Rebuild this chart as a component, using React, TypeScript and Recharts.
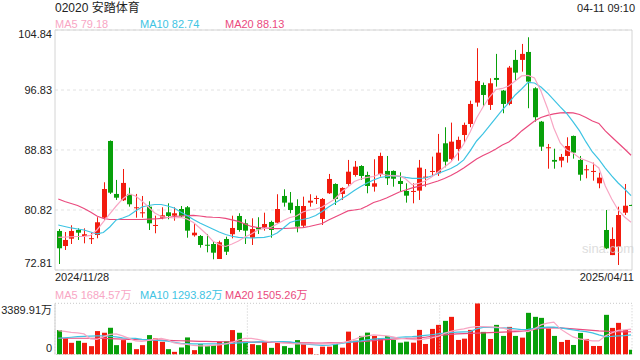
import React from 'react';
import { ComposedChart, Bar, Line, XAxis, YAxis, CartesianGrid, ReferenceArea, ReferenceLine } from 'recharts';

// ---- data ----
const opens = [78.02, 76.01, 76.99, 78.15, 77.35, 77.0, 77.48, 79.79, 90.03, 82.96, 82.12, 82.96, 81.12, 80.46, 81.26, 78.78, 79.79, 80.51, 80.06, 80.95, 81.18, 77.44, 77.35, 76.18, 76.28, 74.28, 76.95, 77.58, 80.02, 79.04, 77.12, 78.51, 78.51, 79.22, 79.12, 82.69, 81.8, 81.35, 78.72, 81.8, 82.38, 79.62, 83.05, 84.29, 82.96, 84.29, 85.49, 86.69, 85.49, 83.93, 85.63, 86.03, 86.03, 84.69, 83.36, 83.32, 83.4, 85.22, 85.98, 85.72, 89.72, 87.63, 88.96, 90.83, 92.3, 95.15, 97.5, 94.84, 98.44, 96.75, 94.97, 100.85, 100.85, 101.91, 97.06, 92.61, 89.14, 87.5, 87.41, 88.03, 90.7, 87.5, 86.2, 85.98, 84.38, 78.15, 74.8, 75.92, 80.46, 81.49];
const highs = [78.28, 77.88, 78.78, 78.37, 78.37, 77.79, 79.85, 84.52, 90.1, 84.83, 86.29, 83.8, 82.96, 82.69, 81.98, 80.06, 81.18, 81.71, 81.18, 81.35, 81.35, 79.04, 77.48, 77.62, 76.59, 76.72, 77.26, 80.06, 80.38, 79.58, 79.71, 79.85, 80.46, 79.39, 82.92, 83.58, 83.22, 82.25, 82.6, 82.92, 82.73, 82.42, 85.63, 84.38, 83.85, 87.5, 87.36, 86.8, 85.93, 87.59, 88.47, 88.03, 86.1, 85.85, 84.38, 84.38, 87.5, 86.29, 87.94, 90.97, 91.86, 92.48, 90.61, 92.48, 95.41, 102.41, 97.82, 98.4, 101.65, 96.84, 100.04, 102.18, 102.98, 103.87, 97.2, 92.7, 89.63, 89.0, 88.3, 90.52, 90.75, 88.03, 86.83, 87.14, 85.8, 80.82, 78.5, 81.26, 84.29, 81.52];
const lows = [73.61, 75.48, 76.28, 76.82, 76.37, 76.28, 77.04, 79.49, 82.96, 82.16, 82.02, 81.26, 79.79, 79.79, 78.15, 77.71, 79.58, 79.58, 79.39, 79.75, 77.12, 77.26, 75.79, 75.17, 74.24, 74.28, 74.81, 77.04, 77.92, 76.28, 76.15, 77.62, 78.06, 77.12, 79.04, 81.26, 80.38, 77.84, 78.46, 81.26, 81.62, 78.82, 82.96, 81.49, 82.16, 84.03, 85.27, 84.83, 83.05, 83.27, 85.27, 84.16, 83.93, 83.27, 81.8, 81.71, 82.16, 83.93, 85.27, 85.36, 86.52, 87.4, 87.4, 89.8, 91.86, 94.61, 94.61, 94.17, 97.28, 93.73, 94.79, 98.08, 99.28, 94.4, 92.61, 88.7, 86.33, 86.33, 86.52, 87.14, 87.67, 84.73, 85.05, 84.73, 83.72, 75.6, 74.8, 73.48, 80.15, 81.46];
const closes = [75.71, 76.82, 78.02, 77.79, 77.58, 77.06, 79.18, 83.62, 83.13, 82.46, 84.43, 81.58, 81.18, 80.51, 79.04, 78.82, 80.11, 80.02, 80.38, 79.98, 78.06, 77.79, 76.15, 76.12, 75.12, 76.51, 75.25, 78.42, 78.15, 78.06, 78.28, 78.24, 78.95, 78.15, 80.95, 81.8, 80.82, 78.6, 81.35, 82.06, 82.42, 82.29, 84.96, 82.29, 83.76, 85.93, 86.6, 85.36, 84.02, 84.38, 88.03, 85.05, 84.99, 84.29, 82.73, 83.36, 86.47, 85.27, 86.03, 88.47, 87.27, 89.94, 90.17, 92.17, 94.97, 98.04, 96.17, 97.73, 98.18, 94.97, 99.82, 99.15, 101.65, 97.95, 93.2, 89.27, 89.19, 87.27, 87.9, 89.36, 88.47, 85.53, 86.25, 86.03, 85.14, 75.7, 76.95, 80.15, 81.39, 81.49];
const ma5 = [77.17, 77.21, 77.25, 77.28, 77.31, 77.42, 78.15, 79.22, 80.29, 81.35, 82.29, 82.96, 82.69, 82.02, 81.22, 80.42, 79.95, 79.82, 79.75, 79.82, 79.62, 79.15, 78.42, 77.62, 76.68, 76.21, 75.95, 76.28, 76.68, 77.21, 77.62, 78.15, 78.35, 78.48, 78.95, 79.42, 79.82, 80.02, 80.55, 80.82, 80.95, 81.22, 81.75, 82.29, 83.22, 83.89, 84.62, 84.96, 85.16, 85.29, 85.63, 85.49, 85.36, 85.36, 84.96, 84.16, 84.36, 84.69, 85.22, 85.89, 86.56, 87.23, 88.3, 89.63, 91.23, 93.1, 94.57, 95.9, 96.9, 97.04, 97.37, 98.04, 98.71, 98.78, 98.44, 96.71, 94.44, 91.77, 89.76, 88.83, 88.43, 87.76, 87.43, 87.09, 86.43, 84.02, 82.29, 80.82, 79.89, 79.18];
const ma10 = [78.82, 78.62, 78.42, 78.28, 78.15, 77.88, 77.62, 77.82, 78.55, 79.49, 79.75, 80.09, 80.69, 81.22, 81.42, 81.55, 81.55, 81.35, 81.09, 80.55, 80.09, 79.55, 79.08, 78.68, 78.28, 77.88, 77.55, 77.31, 77.17, 77.12, 77.08, 77.12, 77.17, 77.35, 77.75, 78.42, 79.15, 79.42, 79.55, 79.75, 80.09, 80.62, 81.22, 81.75, 82.29, 82.82, 83.42, 83.96, 84.42, 84.83, 85.16, 85.29, 85.43, 85.29, 85.16, 85.05, 85.05, 85.09, 85.36, 85.69, 86.03, 86.36, 86.83, 87.5, 88.7, 90.03, 90.97, 92.03, 93.1, 94.17, 95.11, 96.17, 96.97, 97.84, 97.77, 97.24, 96.44, 95.51, 94.57, 93.7, 92.57, 91.37, 89.9, 88.56, 87.56, 86.42, 85.36, 84.42, 83.62, 82.74];
const ma20 = [82.29, 81.95, 81.69, 81.42, 81.02, 80.55, 80.02, 79.69, 79.55, 79.55, 79.55, 79.55, 79.55, 79.55, 79.59, 79.62, 79.69, 79.82, 79.95, 80.02, 80.06, 80.09, 80.02, 79.91, 79.85, 79.82, 79.69, 79.49, 79.29, 78.95, 78.62, 78.48, 78.42, 78.35, 78.32, 78.35, 78.38, 78.42, 78.46, 78.62, 78.82, 79.02, 79.49, 79.89, 80.29, 80.69, 80.82, 80.95, 81.35, 81.82, 82.09, 82.42, 82.82, 83.22, 83.49, 83.76, 83.96, 84.16, 84.42, 84.69, 85.02, 85.43, 85.89, 86.43, 87.03, 87.63, 88.1, 88.5, 88.96, 89.5, 89.9, 90.56, 91.37, 92.03, 92.7, 93.17, 93.44, 93.64, 93.77, 93.81, 93.77, 93.57, 93.17, 92.7, 92.37, 91.37, 90.56, 89.76, 88.96, 88.13];

// volume in 万
const volumes = [1617, 1064, 773, 906, 773, 554, 1551, 1440, 1770, 620, 953, 773, 354, 620, 1285, 1064, 840, 354, 177, 465, 1130, 288, 687, 554, 620, 840, 886, 1617, 1440, 840, 687, 620, 840, 440, 840, 554, 440, 953, 731, 440, 30, 518, 518, 744, 452, 1515, 917, 1230, 1449, 1230, 1077, 1230, 964, 784, 851, 784, 1629, 698, 1695, 1961, 2227, 2493, 964, 1050, 1629, 3389.91, 1496, 1030, 1961, 1230, 1828, 1230, 1117, 2759, 2493, 2426, 1715, 1230, 831, 964, 631, 1429, 1030, 565, 565, 2626, 1761, 2094, 1629, 313];
const volMa5 = [1582, 1529, 1462, 1429, 1363, 1030, 997, 1163, 1329, 1363, 1230, 1064, 897, 864, 931, 997, 1064, 964, 764, 698, 665, 598, 565, 565, 598, 631, 698, 798, 964, 1064, 1064, 997, 897, 831, 798, 764, 731, 698, 698, 698, 698, 698, 698, 731, 764, 864, 997, 1163, 1230, 1296, 1263, 1230, 1163, 1077, 1030, 997, 964, 1030, 1097, 1196, 1396, 1529, 1629, 1695, 1795, 1848, 1848, 1828, 1808, 1761, 1629, 1595, 1562, 1516, 1695, 1961, 2074, 2140, 1695, 1429, 1163, 1030, 964, 897, 897, 1230, 1429, 1595, 1629, 1684.57];
const volMa10 = [1077, 1110, 1143, 1177, 1196, 1216, 1230, 1230, 1210, 1163, 1097, 1077, 1064, 997, 964, 944, 917, 884, 811, 744, 718, 698, 698, 698, 698, 698, 698, 731, 764, 784, 811, 831, 851, 851, 851, 851, 831, 764, 698, 665, 631, 598, 612, 665, 731, 798, 851, 897, 964, 1017, 1050, 1077, 1110, 1143, 1163, 1183, 1216, 1263, 1309, 1363, 1409, 1442, 1476, 1496, 1516, 1695, 1795, 1795, 1775, 1761, 1742, 1695, 1648, 1662, 1728, 1781, 1808, 1808, 1761, 1695, 1629, 1562, 1516, 1429, 1296, 1183, 1196, 1230, 1250, 1293.82];
const volMa20 = [1077, 1077, 1077, 1077, 1077, 1077, 1077, 1064, 1050, 1030, 1017, 1004, 990, 977, 964, 964, 951, 937, 924, 911, 897, 884, 871, 864, 857, 851, 844, 844, 838, 831, 824, 818, 811, 804, 798, 791, 784, 778, 771, 764, 758, 751, 764, 778, 791, 811, 831, 851, 884, 924, 964, 990, 1017, 1044, 1070, 1077, 1097, 1143, 1196, 1243, 1296, 1329, 1363, 1382, 1402, 1416, 1429, 1442, 1462, 1482, 1496, 1509, 1529, 1595, 1662, 1728, 1761, 1781, 1761, 1728, 1695, 1662, 1629, 1595, 1562, 1542, 1522, 1509, 1496, 1505.26];

const priceTicks = [72.81, 80.82, 88.83, 96.83, 104.84];
const volTicks = [0, 3389.91];
const firstDate = '2024/11/28';
const lastDate = '2025/04/11';
const title = '02020 安踏体育';
const timeLabel = '04-11 09:10';

// ---- styles ----
const RED = '#f21b0e';
const GREEN = '#08a00a';
const C_MA5 = '#f8a6c4';
const C_MA10 = '#3ec4e3';
const C_MA20 = '#ea4a7e';
const FONT = "Arial, 'Liberation Sans', 'Noto Sans CJK SC', sans-serif";
const X_DOMAIN: [number, number] = [-0.51, 89.15];

const rows = closes.map((c, i) => ({
  i,
  open: opens[i],
  high: highs[i],
  low: lows[i],
  close: c,
  range: [lows[i], highs[i]],
  ma5: ma5[i],
  ma10: ma10[i],
  ma20: ma20[i],
  vol: volumes[i],
  vma5: volMa5[i],
  vma10: volMa10[i],
  vma20: volMa20[i],
}));

const isUp = (p: any) => p.close > p.open;

function Candle(props: any) {
  const { x, y, width, height, payload } = props;
  if (x == null || y == null || !payload) return null;
  const top = Math.min(y, y + height);
  const h = Math.abs(height);
  const span = payload.high - payload.low;
  const toPx = (v: number) => (span > 0 ? top + ((payload.high - v) / span) * h : top);
  const color = isUp(payload) ? RED : GREEN;
  const cx = Math.round(x + width / 2) + 0.5;
  const bTop = toPx(Math.max(payload.open, payload.close));
  const bBot = toPx(Math.min(payload.open, payload.close));
  const bh = Math.max(1, bBot - bTop);
  return (
    <g>
      <line x1={cx} x2={cx} y1={top} y2={top + Math.max(h, 1)} stroke={color} strokeWidth={1} />
      <rect x={cx - 2.5} y={bTop} width={5} height={bh} fill={color} />
    </g>
  );
}

function VolBar(props: any) {
  const { x, y, width, height, payload } = props;
  if (x == null || y == null || !payload) return null;
  const cx = Math.round(x + width / 2) + 0.5;
  return <rect x={cx - 2.5} y={Math.min(y, y + height)} width={5} height={Math.abs(height)} fill={isUp(payload) ? RED : GREEN} />;
}

function PriceTick(props: any) {
  const { x, y, payload } = props;
  const v = payload.value;
  let dy = 4;
  if (v === priceTicks[priceTicks.length - 1]) dy = 8;
  if (v === priceTicks[0]) dy = -3;
  return (
    <text x={x} y={y} dy={dy} textAnchor="end" fontSize={11} fill="#222" fontFamily={FONT}>
      {v.toFixed(2)}
    </text>
  );
}

function VolTick(props: any) {
  const { x, y, payload } = props;
  const v = payload.value;
  const top = v === volTicks[volTicks.length - 1];
  return (
    <text x={x} y={y} dy={top ? 11 : -3} textAnchor="end" fontSize={11} fill="#222" fontFamily={FONT}>
      {top ? `${v.toFixed(2)}万` : '0'}
    </text>
  );
}

const txt = (extra: React.CSSProperties): React.CSSProperties => ({
  position: 'absolute',
  whiteSpace: 'nowrap',
  fontSize: 11,
  lineHeight: '13px',
  color: '#222',
  ...extra,
});

export default function App() {
  const third = (X_DOMAIN[1] - X_DOMAIN[0]) / 3;
  return (
    <div style={{ position: 'absolute', left: 0, top: 0, width: 640, height: 360, background: '#fff', fontFamily: FONT, overflow: 'hidden' }}>
      <div style={{ position: 'absolute', left: 0, top: 0 }}>
        <ComposedChart width={640} height={272} data={rows} margin={{ top: 30, right: 8, left: 0, bottom: 2 }}>
          <XAxis type="number" dataKey="i" domain={X_DOMAIN} hide allowDataOverflow />
          <YAxis
            type="number"
            domain={[priceTicks[0], priceTicks[priceTicks.length - 1]]}
            ticks={priceTicks}
            width={55}
            tickSize={0}
            tickMargin={3}
            tickLine={false}
            axisLine={false}
            tick={<PriceTick />}
            allowDataOverflow
            interval={0}
          />
          <CartesianGrid vertical={false} stroke="#e2e2e2" strokeDasharray="3 3" />
          <ReferenceArea x1={X_DOMAIN[0]} x2={X_DOMAIN[1]} y1={priceTicks[0]} y2={priceTicks[priceTicks.length - 1]} fill="#fff" fillOpacity={0} stroke="#d4d4d4" strokeWidth={1} ifOverflow="visible" />
          <Bar dataKey="range" shape={<Candle />} barSize={5} isAnimationActive={false} />
          <Line type="linear" dataKey="ma20" stroke={C_MA20} strokeWidth={1.2} dot={false} activeDot={false} isAnimationActive={false} />
          <Line type="linear" dataKey="ma10" stroke={C_MA10} strokeWidth={1.2} dot={false} activeDot={false} isAnimationActive={false} />
          <Line type="linear" dataKey="ma5" stroke={C_MA5} strokeWidth={1.2} dot={false} activeDot={false} isAnimationActive={false} />
        </ComposedChart>
      </div>
      <div style={{ position: 'absolute', left: 0, top: 300 }}>
        <ComposedChart width={640} height={58} data={rows} margin={{ top: 3.3, right: 8, left: 0, bottom: 3.5 }}>
          <XAxis type="number" dataKey="i" domain={X_DOMAIN} hide allowDataOverflow />
          <YAxis
            type="number"
            domain={[volTicks[0], volTicks[1]]}
            ticks={volTicks}
            width={55}
            tickSize={0}
            tickMargin={3}
            tickLine={false}
            axisLine={{ stroke: '#cfcfcf' }}
            tick={<VolTick />}
            allowDataOverflow
            interval={0}
          />
          <ReferenceArea x1={X_DOMAIN[0]} x2={X_DOMAIN[1]} y1={volTicks[0]} y2={volTicks[1]} fill="#fff" fillOpacity={0} stroke="#c8c8c8" strokeDasharray="1 2" ifOverflow="visible" />
          <ReferenceLine x={X_DOMAIN[0] + third} stroke="#c8c8c8" strokeDasharray="1 2" />
          <ReferenceLine x={X_DOMAIN[0] + 2 * third} stroke="#c8c8c8" strokeDasharray="1 2" />
          <Bar dataKey="vol" shape={<VolBar />} barSize={5} isAnimationActive={false} />
          <Line type="linear" dataKey="vma20" stroke={C_MA20} strokeWidth={1.2} dot={false} activeDot={false} isAnimationActive={false} />
          <Line type="linear" dataKey="vma10" stroke={C_MA10} strokeWidth={1.2} dot={false} activeDot={false} isAnimationActive={false} />
          <Line type="linear" dataKey="vma5" stroke={C_MA5} strokeWidth={1.2} dot={false} activeDot={false} isAnimationActive={false} />
        </ComposedChart>
      </div>

      <div style={txt({ left: 55, top: 1, fontSize: 12, lineHeight: '14px' })}>{title}</div>
      <div style={txt({ right: 5, top: 1.5 })}>{timeLabel}</div>
      <div style={txt({ left: 55, top: 17.5, color: C_MA5 })}>{`MA5 ${ma5[ma5.length - 1].toFixed(2)}`}</div>
      <div style={txt({ left: 140, top: 17.5, color: C_MA10 })}>{`MA10 ${ma10[ma10.length - 1].toFixed(2)}`}</div>
      <div style={txt({ left: 225, top: 17.5, color: C_MA20 })}>{`MA20 ${ma20[ma20.length - 1].toFixed(2)}`}</div>

      <div style={txt({ left: 55, top: 270.5 })}>{firstDate}</div>
      <div style={txt({ right: 6, top: 270.5 })}>{lastDate}</div>

      <div style={txt({ left: 55, top: 288.5, color: C_MA5 })}>{`MA5 ${volMa5[volMa5.length - 1].toFixed(2)}万`}</div>
      <div style={txt({ left: 140, top: 288.5, color: C_MA10 })}>{`MA10 ${volMa10[volMa10.length - 1].toFixed(2)}万`}</div>
      <div style={txt({ left: 225, top: 288.5, color: C_MA20 })}>{`MA20 ${volMa20[volMa20.length - 1].toFixed(2)}万`}</div>

      <div style={txt({ left: 582, top: 241, fontSize: 13, lineHeight: '15px', color: '#d0d0d0', opacity: 0.7 })}>sina.com</div>
    </div>
  );
}
